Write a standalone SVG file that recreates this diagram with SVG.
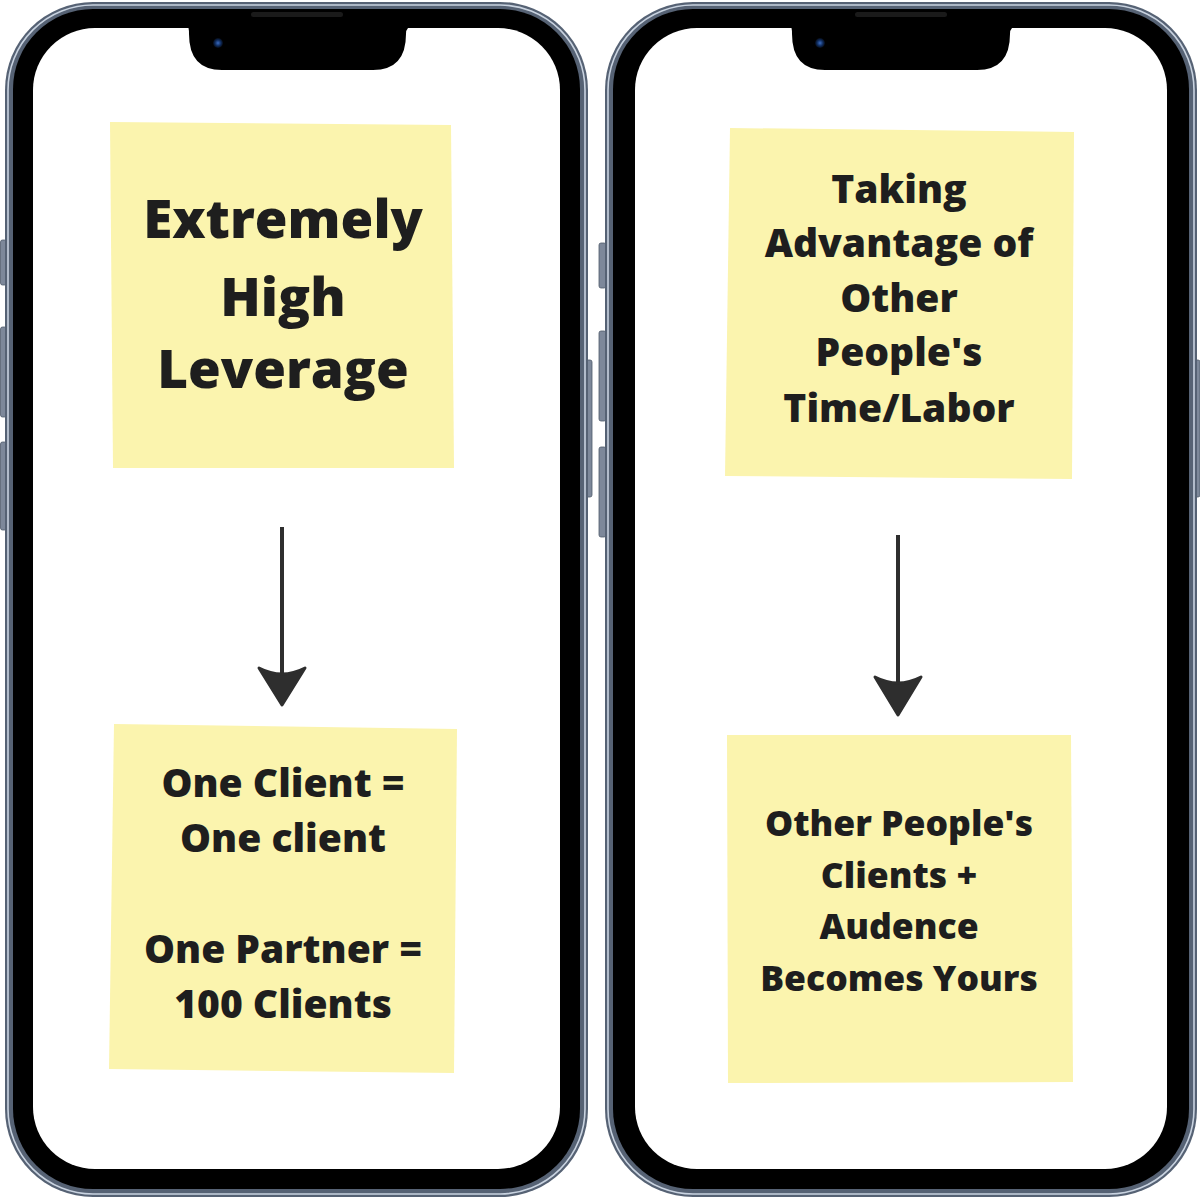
<svg xmlns="http://www.w3.org/2000/svg" width="1200" height="1200" viewBox="0 0 1200 1200">
  <defs>
    <style>
      .metal { fill: #566274; }
      .hl { fill: none; stroke: #c9d3e0; stroke-width: 1.6; }
      .bezel { fill: #000; }
      .screen { fill: #fff; }
      .btn { fill: #7d889a; stroke: #4f5a6b; stroke-width: 0.8; }
      .note { fill: #fbf4ae; }
      .t { font-family: "Open Sans", "Liberation Sans", sans-serif; font-weight: 800; fill: #1e1e1e; text-anchor: middle; }
      .conn { stroke: #2e2e2e; stroke-width: 4; fill: none; }
      .head { fill: #2e2e2e; stroke: #2e2e2e; stroke-width: 3; stroke-linejoin: round; }
    </style>
    <radialGradient id="cam" cx="0.5" cy="0.5" r="0.5">
      <stop offset="0" stop-color="#3a6bc0"/>
      <stop offset="0.6" stop-color="#0e2a5a"/>
      <stop offset="1" stop-color="#050a14"/>
    </radialGradient>
  </defs>
  <rect width="1200" height="1200" fill="#fff"/>

  <!-- Left phone -->
  <g id="phone-left">
    <rect class="btn" x="0.5" y="240" width="6" height="45" rx="2"/>
    <rect class="btn" x="0.5" y="327" width="6" height="90" rx="2"/>
    <rect class="btn" x="0.5" y="442" width="6" height="88" rx="2"/>
    <rect class="btn" x="585" y="360" width="7" height="137" rx="2"/>
    <rect class="metal" x="5" y="2" width="583" height="1195" rx="88"/>
    <rect class="hl" x="8" y="5" width="577" height="1189" rx="85"/>
    <rect class="bezel" x="13" y="9" width="567" height="1180" rx="80"/>
    <rect class="screen" x="33" y="28" width="527" height="1141" rx="62"/>
    <path class="bezel" d="M180 26 L187 26 Q189 26 189 34 Q189 70 222 70 L373 70 Q406 70 406 34 Q406 26 414 26 L414 20 L180 20 Z"/>
    <rect x="251" y="12" width="92" height="5" rx="2.5" fill="#1a1a1a"/>
    <circle cx="218" cy="43" r="5" fill="url(#cam)"/>
  </g>

  <!-- Right phone -->
  <g id="phone-right">
    <rect class="btn" x="599" y="243" width="7" height="45" rx="2"/>
    <rect class="btn" x="599" y="331" width="7" height="90" rx="2"/>
    <rect class="btn" x="599" y="447" width="7" height="90" rx="2"/>
    <rect class="btn" x="1194" y="360" width="6" height="137" rx="2"/>
    <rect class="metal" x="605" y="2" width="592" height="1195" rx="88"/>
    <rect class="hl" x="608" y="5" width="586" height="1189" rx="85"/>
    <rect class="bezel" x="613" y="9" width="576" height="1180" rx="80"/>
    <rect class="screen" x="635" y="28" width="532" height="1141" rx="62"/>
    <path class="bezel" d="M783 26 L790 26 Q792 26 792 34 Q792 70 825 70 L977 70 Q1010 70 1010 34 Q1010 26 1018 26 L1018 20 L783 20 Z"/>
    <rect x="855" y="12" width="92" height="5" rx="2.5" fill="#1a1a1a"/>
    <circle cx="820" cy="43" r="5" fill="url(#cam)"/>
  </g>

  <!-- Notes -->
  <g id="note-extremely-high-leverage">
    <polygon class="note" points="110,122 451,125 454,468 113,468"/>
    <text class="t" font-size="53"><tspan x="283" y="238">Extremely</tspan><tspan x="283" y="316">High</tspan><tspan x="283" y="388">Leverage</tspan></text>
  </g>
  <g id="note-one-client">
    <polygon class="note" points="114,724 457,729 454,1073 109,1069"/>
    <text class="t" font-size="39"><tspan x="283" y="797">One Client =</tspan><tspan x="283" y="852">One client</tspan><tspan x="283" y="963">One Partner =</tspan><tspan x="283" y="1018">100 Clients</tspan></text>
  </g>
  <g id="note-taking-advantage">
    <polygon class="note" points="730,128 1074,132 1072,479 725,476"/>
    <text class="t" font-size="39"><tspan x="899" y="203">Taking</tspan><tspan x="899" y="257">Advantage of</tspan><tspan x="899" y="312">Other</tspan><tspan x="899" y="366">People's</tspan><tspan x="899" y="422">Time/Labor</tspan></text>
  </g>
  <g id="note-other-peoples-clients">
    <polygon class="note" points="727,735 1071,735 1073,1082 728,1083"/>
    <text class="t" font-size="35.5"><tspan x="899" y="836">Other People's</tspan><tspan x="899" y="888">Clients +</tspan><tspan x="899" y="939">Audence</tspan><tspan x="899" y="991">Becomes Yours</tspan></text>
  </g>

  <!-- Connectors -->
  <g id="connectors">
    <line class="conn" x1="282" y1="527" x2="282" y2="682"/>
    <path class="head" d="M259 668 Q282 680 305 668 L282 705 Z"/>
    <line class="conn" x1="898" y1="535" x2="898" y2="692"/>
    <path class="head" d="M875 677 Q898 689 921 677 L898 715 Z"/>
  </g>
</svg>
